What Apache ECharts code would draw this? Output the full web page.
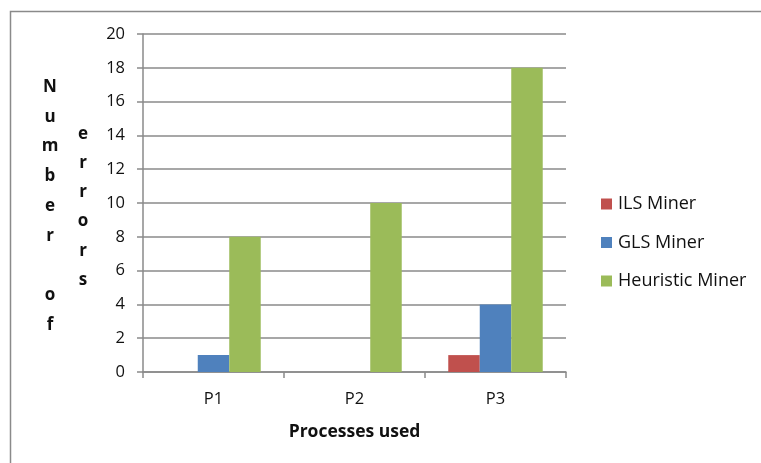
<!DOCTYPE html>
<html>
<head>
<meta charset="utf-8">
<script src="https://cdn.jsdelivr.net/npm/echarts@6/dist/echarts.min.js"></script>
<style>html,body{margin:0;padding:0;background:#fff;}#c{width:761px;height:463px;}</style>
</head>
<body>
<div id="c"></div>
<script>
var categories = ['P1', 'P2', 'P3'];
var ilsMiner = [0, 0, 1];
var glsMiner = [1, 0, 4];
var heuristicMiner = [8, 10, 18];
var seriesNames = ['ILS Miner', 'GLS Miner', 'Heuristic Miner'];
var yTitleLeft = ['N', 'u', 'm', 'b', 'e', 'r', '', 'o', 'f'];
var yTitleRight = ['e', 'r', 'r', 'o', 'r', 's'];
var xTitle = 'Processes used';

var FONT = '"Open Sans", sans-serif';
var TXT = '#111';
var graphics = [
  { type: 'rect', shape: { x: 10.5, y: 11.5, width: 800, height: 600 }, style: { fill: 'none', stroke: '#8a8a8a', lineWidth: 1.5 }, silent: true, z: -1 }
];
yTitleLeft.forEach(function (ch, i) {
  if (!ch) return;
  graphics.push({ type: 'text', x: 50, y: 87 + i * 29.75, style: { text: ch, fontFamily: FONT, fontSize: 17, fontWeight: 'bold', fill: TXT, align: 'center', verticalAlign: 'middle' } });
});
yTitleRight.forEach(function (ch, i) {
  graphics.push({ type: 'text', x: 83, y: 134 + i * 29.2, style: { text: ch, fontFamily: FONT, fontSize: 17, fontWeight: 'bold', fill: TXT, align: 'center', verticalAlign: 'middle' } });
});

var chart = echarts.init(document.getElementById('c'));
chart.setOption({
  animation: false,
  backgroundColor: '#fff',
  color: ['#C0504D', '#4F81BD', '#9BBB59'],
  textStyle: { fontFamily: FONT },
  grid: { left: 143, right: 195, top: 34, bottom: 91 },
  legend: {
    orient: 'vertical',
    left: 601, top: 194,
    padding: 0,
    itemWidth: 11, itemHeight: 11, itemGap: 18.5,
    icon: 'rect',
    textStyle: { fontFamily: FONT, fontSize: 18, lineHeight: 20, color: TXT, padding: [0, 0, 0, 1] },
    data: seriesNames
  },
  xAxis: {
    type: 'category',
    data: categories,
    name: xTitle,
    nameLocation: 'middle',
    nameGap: 51,
    nameTextStyle: { fontFamily: FONT, fontSize: 17.5, fontWeight: 'bold', color: TXT },
    axisLine: { lineStyle: { color: '#8a8a8a', width: 1.5 } },
    axisTick: { show: true, length: 6, lineStyle: { color: '#8a8a8a', width: 1.5 } },
    axisLabel: { fontSize: 16.5, color: TXT, margin: 19 }
  },
  yAxis: {
    type: 'value',
    min: 0, max: 20, interval: 2,
    axisLine: { show: true, lineStyle: { color: '#8a8a8a', width: 1.5 } },
    axisTick: { show: true, length: 6, lineStyle: { color: '#8a8a8a', width: 1.5 } },
    splitLine: { lineStyle: { color: '#8a8a8a', width: 1.5 } },
    axisLabel: { fontSize: 16.5, color: TXT, margin: 18 }
  },
  series: [
    { name: seriesNames[0], type: 'bar', data: ilsMiner, barGap: '0%', barCategoryGap: '33%' },
    { name: seriesNames[1], type: 'bar', data: glsMiner, barGap: '0%', barCategoryGap: '33%' },
    { name: seriesNames[2], type: 'bar', data: heuristicMiner, barGap: '0%', barCategoryGap: '33%' }
  ],
  graphic: graphics
});
</script>
</body>
</html>
